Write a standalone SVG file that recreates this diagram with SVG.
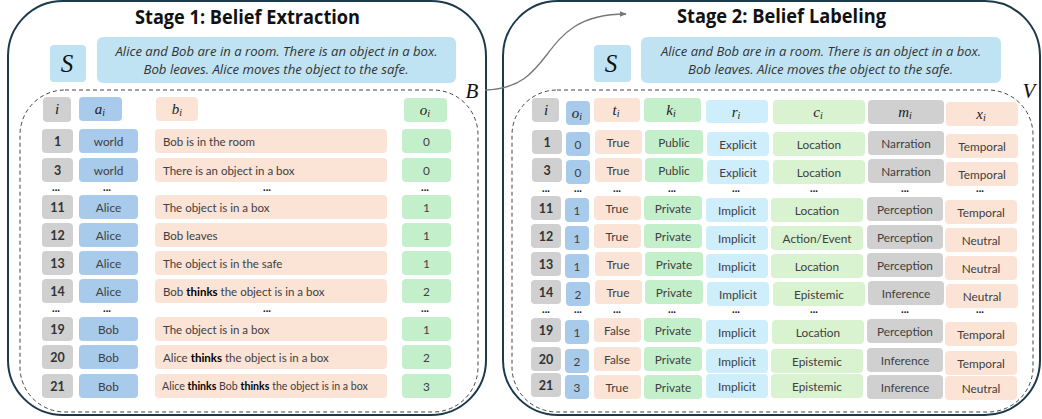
<svg xmlns="http://www.w3.org/2000/svg" width="1042" height="419" viewBox="0 0 1042 419">
<style>
.panel{fill:#fff;stroke:#1c3a4c;stroke-width:2}
.dash{fill:none;stroke:#444;stroke-width:1;stroke-dasharray:4 3}
.gray{fill:#d0d0d0}.blue{fill:#a8cbec}.peach{fill:#fbe3d6}.green{fill:#c4efcb}.lblue{fill:#cdeefa}.lgreen{fill:#d9f2d0}.sky{fill:#c0e3f3}
.t{font-family:Lato,"Open Sans",sans-serif;font-size:11.8px;fill:#404040;text-anchor:middle}
.tl{text-anchor:start;font-size:11.5px}
.num{font-weight:bold;fill:#333;font-size:12.5px}
.b{font-weight:bold;fill:#000}
.m{font-family:"Liberation Serif","DejaVu Serif",serif;font-style:italic;font-size:15px;fill:#222;text-anchor:middle}
.big{font-family:"Liberation Serif","DejaVu Serif",serif;font-style:italic;font-size:25px;fill:#111;text-anchor:middle}
.dots{font-family:Lato,sans-serif;font-weight:bold;font-size:11px;fill:#111;text-anchor:middle}
.title{font-family:"Open Sans",Lato,sans-serif;font-weight:bold;font-size:20px;fill:#111;text-anchor:middle}
.story{font-family:"Open Sans",Lato,sans-serif;font-style:italic;font-size:13.5px;fill:#333;text-anchor:middle}
.small{font-size:10.6px}
</style>
<defs>
<marker id="ah" viewBox="0 0 10 10" refX="9" refY="5" markerWidth="7" markerHeight="7" orient="auto" markerUnits="userSpaceOnUse"><path d="M0,1 L10,5 L0,9 z" fill="#777"/></marker>
</defs>

<g id="stage1">
<rect class="panel" x="8" y="1" width="478" height="414" rx="55"/>
<text class="title" x="247.5" y="24" textLength="225" lengthAdjust="spacingAndGlyphs">Stage 1: Belief Extraction</text>
<g id="s1-S"><rect class="sky" x="50" y="45" width="36" height="37" rx="4"/><text class="big" x="67" y="72">S</text></g>
<g id="s1-story"><rect class="sky" x="97" y="37" width="359" height="46" rx="6"/>
<text class="story" x="276.5" y="56" textLength="322" lengthAdjust="spacingAndGlyphs">Alice and Bob are in a room. There is an object in a box.</text>
<text class="story" x="276" y="74" textLength="265" lengthAdjust="spacingAndGlyphs">Bob leaves. Alice moves the object to the safe.</text></g>
<g id="s1-table">
<rect class="dash" x="20" y="90" width="458" height="322" rx="45"/>
<g id="s1-head">
<rect class="gray" x="43" y="97" width="28" height="25" rx="4"/><text class="m" x="57" y="114">i</text>
<rect class="blue" x="79" y="97" width="43" height="24" rx="4"/><text class="m" x="100" y="114">a<tspan font-size="10" dy="2">i</tspan></text>
<rect class="peach" x="156" y="97" width="42" height="24" rx="4"/><text class="m" x="177" y="114">b<tspan font-size="10" dy="2">i</tspan></text>
<rect class="green" x="404" y="98" width="43" height="24" rx="4"/><text class="m" x="425" y="115">o<tspan font-size="10" dy="2">i</tspan></text>
</g>
<g id="s1-r1"><rect class="gray" x="42" y="129" width="31" height="24" rx="4"/><text class="t num" x="57.5" y="146">1</text><rect class="blue" x="79" y="129" width="59" height="24" rx="4"/><text class="t" x="108.5" y="146">world</text><rect class="peach" x="155" y="129" width="232" height="24" rx="4"/><text class="t tl" x="163" y="146">Bob is in the room</text><rect class="green" x="402" y="129" width="49" height="24" rx="4"/><text class="t" x="426.5" y="146">0</text></g>
<g id="s1-r3"><rect class="gray" x="42" y="158" width="31" height="24" rx="4"/><text class="t num" x="57.5" y="175">3</text><rect class="blue" x="79" y="158" width="59" height="24" rx="4"/><text class="t" x="108.5" y="175">world</text><rect class="peach" x="155" y="158" width="232" height="24" rx="4"/><text class="t tl" x="163" y="175">There is an object in a box</text><rect class="green" x="402" y="158" width="49" height="24" rx="4"/><text class="t" x="426.5" y="175">0</text></g>
<g id="s1-d1"><text class="dots" x="56" y="191">...</text><text class="dots" x="107" y="191">...</text><text class="dots" x="267" y="191">...</text><text class="dots" x="425" y="191">...</text></g>
<g id="s1-r11"><rect class="gray" x="42" y="195" width="31" height="24" rx="4"/><text class="t num" x="57.5" y="212">11</text><rect class="blue" x="79" y="195" width="59" height="24" rx="4"/><text class="t" x="108.5" y="212">Alice</text><rect class="peach" x="155" y="195" width="232" height="24" rx="4"/><text class="t tl" x="163" y="212">The object is in a box</text><rect class="green" x="402" y="195" width="49" height="24" rx="4"/><text class="t" x="426.5" y="212">1</text></g>
<g id="s1-r12"><rect class="gray" x="42" y="223" width="31" height="24" rx="4"/><text class="t num" x="57.5" y="240">12</text><rect class="blue" x="79" y="223" width="59" height="24" rx="4"/><text class="t" x="108.5" y="240">Alice</text><rect class="peach" x="155" y="223" width="232" height="24" rx="4"/><text class="t tl" x="163" y="240">Bob leaves</text><rect class="green" x="402" y="223" width="49" height="24" rx="4"/><text class="t" x="426.5" y="240">1</text></g>
<g id="s1-r13"><rect class="gray" x="42" y="251" width="31" height="24" rx="4"/><text class="t num" x="57.5" y="268">13</text><rect class="blue" x="79" y="251" width="59" height="24" rx="4"/><text class="t" x="108.5" y="268">Alice</text><rect class="peach" x="155" y="251" width="232" height="24" rx="4"/><text class="t tl" x="163" y="268">The object is in the safe</text><rect class="green" x="402" y="251" width="49" height="24" rx="4"/><text class="t" x="426.5" y="268">1</text></g>
<g id="s1-r14"><rect class="gray" x="42" y="279" width="31" height="24" rx="4"/><text class="t num" x="57.5" y="296">14</text><rect class="blue" x="79" y="279" width="59" height="24" rx="4"/><text class="t" x="108.5" y="296">Alice</text><rect class="peach" x="155" y="279" width="232" height="24" rx="4"/><text class="t tl" x="163" y="296">Bob <tspan class="b">thinks</tspan> the object is in a box</text><rect class="green" x="402" y="279" width="49" height="24" rx="4"/><text class="t" x="426.5" y="296">2</text></g>
<g id="s1-d2"><text class="dots" x="56" y="312">...</text><text class="dots" x="107" y="312">...</text><text class="dots" x="267" y="312">...</text><text class="dots" x="425" y="312">...</text></g>
<g id="s1-r19"><rect class="gray" x="42" y="317" width="31" height="24" rx="4"/><text class="t num" x="57.5" y="334">19</text><rect class="blue" x="79" y="317" width="59" height="24" rx="4"/><text class="t" x="108.5" y="334">Bob</text><rect class="peach" x="155" y="317" width="232" height="24" rx="4"/><text class="t tl" x="163" y="334">The object is in a box</text><rect class="green" x="402" y="317" width="49" height="24" rx="4"/><text class="t" x="426.5" y="334">1</text></g>
<g id="s1-r20"><rect class="gray" x="42" y="345" width="31" height="24" rx="4"/><text class="t num" x="57.5" y="362">20</text><rect class="blue" x="79" y="345" width="59" height="24" rx="4"/><text class="t" x="108.5" y="362">Bob</text><rect class="peach" x="155" y="345" width="232" height="24" rx="4"/><text class="t tl" x="163" y="362">Alice <tspan class="b">thinks</tspan> the object is in a box</text><rect class="green" x="402" y="345" width="49" height="24" rx="4"/><text class="t" x="426.5" y="362">2</text></g>
<g id="s1-r21"><rect class="gray" x="42" y="374" width="31" height="24" rx="4"/><text class="t num" x="57.5" y="391">21</text><rect class="blue" x="79" y="374" width="59" height="24" rx="4"/><text class="t" x="108.5" y="391">Bob</text><rect class="peach" x="155" y="374" width="232" height="24" rx="4"/><text class="t tl small" x="162" y="390">Alice <tspan class="b">thinks</tspan> Bob <tspan class="b">thinks</tspan> the object is in a box</text><rect class="green" x="402" y="374" width="49" height="24" rx="4"/><text class="t" x="426.5" y="391">3</text></g>
</g>
<g id="label-B"><text class="big" x="472" y="98" style="font-size:21px">B</text></g>
</g>

<g id="stage2">
<rect class="panel" x="503" y="1" width="537" height="414" rx="55"/>
<text class="title" x="781.5" y="23" textLength="209" lengthAdjust="spacingAndGlyphs">Stage 2: Belief Labeling</text>
<g id="s2-S"><rect class="sky" x="594" y="45" width="37" height="37" rx="4"/><text class="big" x="611" y="72">S</text></g>
<g id="s2-story"><rect class="sky" x="641" y="37" width="360" height="46" rx="6"/>
<text class="story" x="821" y="56" textLength="320" lengthAdjust="spacingAndGlyphs">Alice and Bob are in a room. There is an object in a box.</text>
<text class="story" x="820.5" y="74" textLength="265" lengthAdjust="spacingAndGlyphs">Bob leaves. Alice moves the object to the safe.</text></g>
<g id="s2-table">
<rect class="dash" x="512" y="90" width="521" height="322" rx="45"/>
<g id="s2-head">
<rect class="gray" x="532" y="98" width="27" height="24" rx="4"/><text class="m" x="546" y="115">i</text>
<rect class="blue" x="566" y="101" width="24" height="24" rx="4"/><text class="m" x="577" y="118">o<tspan font-size="10" dy="2">i</tspan></text>
<rect class="peach" x="594" y="98" width="46" height="24" rx="4"/><text class="m" x="616" y="115">t<tspan font-size="10" dy="2">i</tspan></text>
<rect class="green" x="644" y="98" width="57" height="24" rx="4"/><text class="m" x="671" y="115">k<tspan font-size="10" dy="2">i</tspan></text>
<rect class="lblue" x="706" y="100" width="62" height="23" rx="4"/><text class="m" x="736" y="117">r<tspan font-size="10" dy="2">i</tspan></text>
<rect class="lgreen" x="773" y="100" width="92" height="24" rx="4"/><text class="m" x="818" y="117">c<tspan font-size="10" dy="2">i</tspan></text>
<rect class="gray" x="868" y="100" width="76" height="24" rx="4"/><text class="m" x="905" y="117">m<tspan font-size="10" dy="2">i</tspan></text>
<rect class="peach" x="946" y="102" width="72" height="24" rx="4"/><text class="m" x="981" y="119">x<tspan font-size="10" dy="2">i</tspan></text>
</g>
<g id="s2-r1"><rect class="gray" x="532" y="130" width="30" height="24" rx="4"/><text class="t num" x="547" y="147">1</text><rect class="blue" x="566" y="132" width="24" height="24" rx="4"/><text class="t" x="578" y="149">0</text><rect class="peach" x="595" y="130" width="47" height="24" rx="4"/><text class="t" x="618" y="147">True</text><rect class="green" x="645" y="130" width="58" height="24" rx="4"/><text class="t" x="674" y="147">Public</text><rect class="lblue" x="707" y="132" width="62" height="24" rx="4"/><text class="t" x="738" y="149">Explicit</text><rect class="lgreen" x="773" y="132" width="92" height="24" rx="4"/><text class="t" x="819" y="149">Location</text><rect class="gray" x="868" y="131" width="76" height="24" rx="4"/><text class="t" x="906" y="148">Narration</text><rect class="peach" x="946" y="134" width="72" height="24" rx="4"/><text class="t" x="982" y="151">Temporal</text></g>
<g id="s2-r3"><rect class="gray" x="532" y="158" width="30" height="24" rx="4"/><text class="t num" x="547" y="175">3</text><rect class="blue" x="566" y="160" width="24" height="24" rx="4"/><text class="t" x="578" y="177">0</text><rect class="peach" x="595" y="158" width="47" height="24" rx="4"/><text class="t" x="618" y="175">True</text><rect class="green" x="645" y="158" width="58" height="24" rx="4"/><text class="t" x="674" y="175">Public</text><rect class="lblue" x="707" y="160" width="62" height="24" rx="4"/><text class="t" x="738" y="177">Explicit</text><rect class="lgreen" x="773" y="160" width="92" height="24" rx="4"/><text class="t" x="819" y="177">Location</text><rect class="gray" x="868" y="159" width="76" height="24" rx="4"/><text class="t" x="906" y="176">Narration</text><rect class="peach" x="946" y="162" width="72" height="24" rx="4"/><text class="t" x="982" y="179">Temporal</text></g>
<g id="s2-d1"><text class="dots" x="546" y="192">...</text><text class="dots" x="578" y="192">...</text><text class="dots" x="617" y="192">...</text><text class="dots" x="672" y="192">...</text><text class="dots" x="736" y="192">...</text><text class="dots" x="814" y="192">...</text><text class="dots" x="905" y="192">...</text><text class="dots" x="980" y="192">...</text></g>
<g id="s2-r11"><rect class="gray" x="531" y="196" width="30" height="24" rx="4"/><text class="t num" x="546" y="213">11</text><rect class="blue" x="565" y="198" width="24" height="24" rx="4"/><text class="t" x="577" y="215">1</text><rect class="peach" x="594" y="196" width="47" height="24" rx="4"/><text class="t" x="617" y="213">True</text><rect class="green" x="644" y="196" width="58" height="24" rx="4"/><text class="t" x="673" y="213">Private</text><rect class="lblue" x="706" y="198" width="62" height="24" rx="4"/><text class="t" x="737" y="215">Implicit</text><rect class="lgreen" x="771" y="198" width="92" height="24" rx="4"/><text class="t" x="817" y="215">Location</text><rect class="gray" x="867" y="197" width="76" height="24" rx="4"/><text class="t" x="905" y="214">Perception</text><rect class="peach" x="945" y="200" width="72" height="24" rx="4"/><text class="t" x="981" y="217">Temporal</text></g>
<g id="s2-r12"><rect class="gray" x="531" y="224" width="30" height="24" rx="4"/><text class="t num" x="546" y="241">12</text><rect class="blue" x="565" y="226" width="24" height="24" rx="4"/><text class="t" x="577" y="243">1</text><rect class="peach" x="594" y="224" width="47" height="24" rx="4"/><text class="t" x="617" y="241">True</text><rect class="green" x="644" y="224" width="58" height="24" rx="4"/><text class="t" x="673" y="241">Private</text><rect class="lblue" x="706" y="226" width="62" height="24" rx="4"/><text class="t" x="737" y="243">Implicit</text><rect class="lgreen" x="771" y="226" width="92" height="24" rx="4"/><text class="t" x="817" y="243">Action/Event</text><rect class="gray" x="867" y="225" width="76" height="24" rx="4"/><text class="t" x="905" y="242">Perception</text><rect class="peach" x="945" y="228" width="72" height="24" rx="4"/><text class="t" x="981" y="245">Neutral</text></g>
<g id="s2-r13"><rect class="gray" x="531" y="252" width="30" height="24" rx="4"/><text class="t num" x="546" y="269">13</text><rect class="blue" x="565" y="254" width="24" height="24" rx="4"/><text class="t" x="577" y="271">1</text><rect class="peach" x="595" y="252" width="47" height="24" rx="4"/><text class="t" x="618" y="269">True</text><rect class="green" x="645" y="252" width="58" height="24" rx="4"/><text class="t" x="674" y="269">Private</text><rect class="lblue" x="706" y="254" width="62" height="24" rx="4"/><text class="t" x="737" y="271">Implicit</text><rect class="lgreen" x="771" y="254" width="92" height="24" rx="4"/><text class="t" x="817" y="271">Location</text><rect class="gray" x="867" y="253" width="76" height="24" rx="4"/><text class="t" x="905" y="270">Perception</text><rect class="peach" x="945" y="256" width="72" height="24" rx="4"/><text class="t" x="981" y="273">Neutral</text></g>
<g id="s2-r14"><rect class="gray" x="531" y="280" width="30" height="24" rx="4"/><text class="t num" x="546" y="297">14</text><rect class="blue" x="566" y="282" width="24" height="24" rx="4"/><text class="t" x="578" y="299">2</text><rect class="peach" x="595" y="280" width="47" height="24" rx="4"/><text class="t" x="618" y="297">True</text><rect class="green" x="645" y="280" width="58" height="24" rx="4"/><text class="t" x="674" y="297">Private</text><rect class="lblue" x="707" y="282" width="62" height="24" rx="4"/><text class="t" x="738" y="299">Implicit</text><rect class="lgreen" x="773" y="282" width="92" height="24" rx="4"/><text class="t" x="819" y="299">Epistemic</text><rect class="gray" x="868" y="281" width="76" height="24" rx="4"/><text class="t" x="906" y="298">Inference</text><rect class="peach" x="946" y="284" width="72" height="24" rx="4"/><text class="t" x="982" y="301">Neutral</text></g>
<g id="s2-d2"><text class="dots" x="546" y="313">...</text><text class="dots" x="578" y="313">...</text><text class="dots" x="617" y="313">...</text><text class="dots" x="672" y="313">...</text><text class="dots" x="736" y="313">...</text><text class="dots" x="814" y="313">...</text><text class="dots" x="905" y="313">...</text><text class="dots" x="980" y="313">...</text></g>
<g id="s2-r19"><rect class="gray" x="531" y="318" width="30" height="24" rx="4"/><text class="t num" x="546" y="335">19</text><rect class="blue" x="565" y="320" width="24" height="24" rx="4"/><text class="t" x="577" y="337">1</text><rect class="peach" x="594" y="318" width="47" height="24" rx="4"/><text class="t" x="617" y="335">False</text><rect class="green" x="644" y="318" width="58" height="24" rx="4"/><text class="t" x="673" y="335">Private</text><rect class="lblue" x="706" y="320" width="62" height="24" rx="4"/><text class="t" x="737" y="337">Implicit</text><rect class="lgreen" x="772" y="320" width="92" height="24" rx="4"/><text class="t" x="818" y="337">Location</text><rect class="gray" x="867" y="319" width="76" height="24" rx="4"/><text class="t" x="905" y="336">Perception</text><rect class="peach" x="945" y="322" width="72" height="24" rx="4"/><text class="t" x="981" y="339">Temporal</text></g>
<g id="s2-r20"><rect class="gray" x="531" y="347" width="30" height="24" rx="4"/><text class="t num" x="546" y="364">20</text><rect class="blue" x="565" y="349" width="24" height="24" rx="4"/><text class="t" x="577" y="366">2</text><rect class="peach" x="594" y="347" width="47" height="24" rx="4"/><text class="t" x="617" y="364">False</text><rect class="green" x="644" y="347" width="58" height="24" rx="4"/><text class="t" x="673" y="364">Private</text><rect class="lblue" x="706" y="349" width="62" height="24" rx="4"/><text class="t" x="737" y="366">Implicit</text><rect class="lgreen" x="771" y="349" width="92" height="24" rx="4"/><text class="t" x="817" y="366">Epistemic</text><rect class="gray" x="867" y="348" width="76" height="24" rx="4"/><text class="t" x="905" y="365">Inference</text><rect class="peach" x="945" y="351" width="72" height="24" rx="4"/><text class="t" x="981" y="368">Temporal</text></g>
<g id="s2-r21"><rect class="gray" x="531" y="373" width="30" height="24" rx="4"/><text class="t num" x="546" y="390">21</text><rect class="blue" x="565" y="375" width="24" height="24" rx="4"/><text class="t" x="577" y="392">3</text><rect class="peach" x="594" y="375" width="47" height="24" rx="4"/><text class="t" x="617" y="392">True</text><rect class="green" x="644" y="375" width="58" height="24" rx="4"/><text class="t" x="673" y="392">Private</text><rect class="lblue" x="706" y="374" width="62" height="24" rx="4"/><text class="t" x="737" y="391">Implicit</text><rect class="lgreen" x="771" y="374" width="92" height="24" rx="4"/><text class="t" x="817" y="391">Epistemic</text><rect class="gray" x="867" y="375" width="76" height="24" rx="4"/><text class="t" x="905" y="392">Inference</text><rect class="peach" x="945" y="376" width="72" height="24" rx="4"/><text class="t" x="981" y="393">Neutral</text></g>
</g>
<g id="label-V"><text class="big" x="1029" y="98" style="font-size:21px">V</text></g>
</g>

<g id="connectors">
<path d="M485,90 C560,88 535,14 626,14" fill="none" stroke="#777" stroke-width="1.3" marker-end="url(#ah)"/>
</g>
</svg>
